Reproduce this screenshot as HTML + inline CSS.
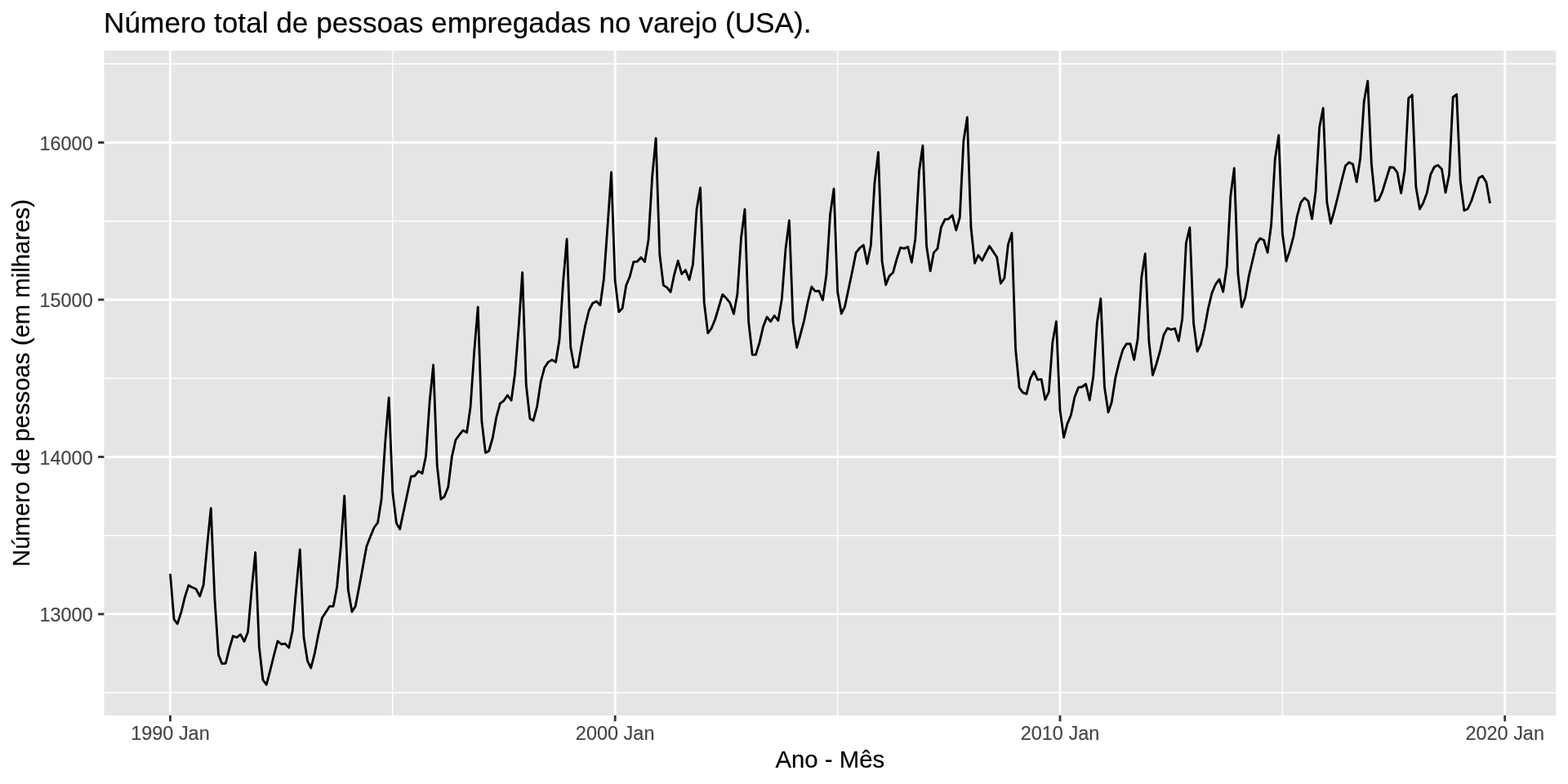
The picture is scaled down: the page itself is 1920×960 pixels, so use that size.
<!DOCTYPE html>
<html lang="pt">
<head>
<meta charset="utf-8">
<title>Número total de pessoas empregadas no varejo (USA).</title>
<style>
html,body{margin:0;padding:0;background:#fff;}
body{width:1920px;height:960px;overflow:hidden;}
svg{display:block;}
text{font-family:"Liberation Sans",Arial,Helvetica,sans-serif;}
.at{font-size:23.47px;fill:#444444;stroke:#444444;stroke-width:0.15px;}
.ti{font-size:35.2px;fill:#000;stroke:#000;stroke-width:0.2px;}
.ax{font-size:29.33px;fill:#000;stroke:#000;stroke-width:0.2px;}
</style>
</head>
<body>
<svg width="1920" height="960" viewBox="0 0 1920 960">
<rect x="0" y="0" width="1920" height="960" fill="#ffffff"/>
<rect x="127.45" y="62.00" width="1777.75" height="814.00" fill="#e5e5e5"/>
<g stroke="#ffffff" fill="none" stroke-linecap="butt">
<line x1="127.45" x2="1905.20" y1="848.19" y2="848.19" stroke-width="1.42"/>
<line x1="127.45" x2="1905.20" y1="655.71" y2="655.71" stroke-width="1.42"/>
<line x1="127.45" x2="1905.20" y1="463.23" y2="463.23" stroke-width="1.42"/>
<line x1="127.45" x2="1905.20" y1="270.74" y2="270.74" stroke-width="1.42"/>
<line x1="127.45" x2="1905.20" y1="78.26" y2="78.26" stroke-width="1.42"/>
<line x1="480.80" x2="480.80" y1="62.00" y2="876.00" stroke-width="1.42"/>
<line x1="1025.65" x2="1025.65" y1="62.00" y2="876.00" stroke-width="1.42"/>
<line x1="1570.35" x2="1570.35" y1="62.00" y2="876.00" stroke-width="1.42"/>
<line x1="127.45" x2="1905.20" y1="751.95" y2="751.95" stroke-width="2.84"/>
<line x1="127.45" x2="1905.20" y1="559.47" y2="559.47" stroke-width="2.84"/>
<line x1="127.45" x2="1905.20" y1="366.98" y2="366.98" stroke-width="2.84"/>
<line x1="127.45" x2="1905.20" y1="174.50" y2="174.50" stroke-width="2.84"/>
<line x1="208.45" x2="208.45" y1="62.00" y2="876.00" stroke-width="2.84"/>
<line x1="753.15" x2="753.15" y1="62.00" y2="876.00" stroke-width="2.84"/>
<line x1="1298.00" x2="1298.00" y1="62.00" y2="876.00" stroke-width="2.84"/>
<line x1="1842.70" x2="1842.70" y1="62.00" y2="876.00" stroke-width="2.84"/>
</g>
<polyline points="208.45,702.71 213.07,758.44 217.25,763.85 221.87,749.58 226.35,731.10 230.97,716.76 235.45,719.21 240.07,721.25 244.69,730.12 249.17,716.30 253.79,667.00 258.27,622.30 262.89,733.00 267.51,801.50 271.69,812.50 276.31,812.25 280.79,794.40 285.41,778.75 289.89,780.60 294.51,776.90 299.13,785.60 303.61,773.75 308.23,721.00 312.71,676.50 317.33,791.90 321.95,832.50 326.28,838.50 330.90,820.60 335.38,802.50 340.00,785.00 344.48,788.75 349.10,788.10 353.72,793.10 358.20,772.50 362.82,720.00 367.30,673.00 371.92,780.00 376.54,809.40 380.72,817.90 385.34,800.00 389.82,777.00 394.44,756.50 398.92,749.70 403.54,742.40 408.16,742.40 412.64,718.75 417.26,670.00 421.74,607.10 426.36,722.50 430.98,749.10 435.16,742.50 439.78,718.75 444.26,694.40 448.88,669.00 453.36,657.50 457.98,646.25 462.60,639.90 467.08,611.25 471.70,541.60 476.18,486.80 480.80,603.10 485.42,640.60 489.60,647.90 494.22,626.25 498.70,605.00 503.32,583.50 507.80,582.75 512.42,576.90 517.04,579.75 521.52,558.50 526.14,491.25 530.62,446.80 535.24,570.00 539.86,611.25 544.19,608.10 548.81,596.25 553.29,559.50 557.91,538.75 562.39,532.50 567.01,526.90 571.63,529.75 576.11,498.10 580.73,430.00 585.21,375.80 589.83,515.00 594.45,554.40 598.63,552.25 603.25,536.25 607.73,511.25 612.35,494.00 616.83,490.80 621.45,484.00 626.07,490.25 630.55,458.00 635.17,400.00 639.65,333.70 644.27,471.25 648.89,512.50 653.07,515.00 657.69,497.50 662.17,467.50 666.79,450.00 671.27,443.40 675.89,440.60 680.51,443.40 684.99,416.25 689.61,345.00 694.09,292.70 698.71,425.00 703.33,450.00 707.51,449.00 712.13,422.50 716.61,398.75 721.23,380.00 725.71,371.25 730.33,369.00 734.95,373.75 739.43,341.25 744.05,276.00 748.53,211.00 753.15,343.75 757.77,381.90 762.10,377.50 766.72,349.40 771.20,338.75 775.82,320.60 780.30,320.25 784.92,315.25 789.54,320.60 794.02,293.75 798.64,216.25 803.12,169.30 807.74,311.25 812.36,349.30 816.54,351.90 821.16,357.50 825.64,336.25 830.26,319.40 834.74,335.60 839.36,330.60 843.98,342.60 848.46,323.75 853.08,256.25 857.56,230.00 862.18,370.00 866.80,407.90 870.98,402.50 875.60,391.25 880.08,376.25 884.70,360.60 889.18,365.00 893.80,370.60 898.42,384.40 902.90,360.00 907.52,291.25 912.00,256.30 916.62,393.75 921.24,434.35 925.42,434.35 930.04,419.40 934.52,400.00 939.14,388.10 943.62,393.75 948.24,386.50 952.86,392.50 957.34,366.25 961.96,305.00 966.44,270.00 971.06,393.75 975.68,425.60 980.01,410.00 984.63,392.50 989.11,370.00 993.73,351.25 998.21,356.60 1002.83,356.25 1007.45,367.50 1011.93,336.50 1016.55,262.50 1021.03,231.20 1025.65,357.50 1030.27,384.00 1034.45,375.65 1039.07,353.75 1043.55,332.50 1048.17,309.40 1052.65,303.75 1057.27,300.00 1061.89,323.10 1066.37,300.30 1070.99,223.75 1075.47,186.50 1080.09,320.00 1084.71,348.75 1088.89,338.10 1093.51,333.75 1097.99,317.50 1102.61,303.10 1107.09,304.40 1111.71,302.25 1116.33,321.25 1120.81,292.50 1125.43,210.00 1129.91,178.30 1134.53,301.25 1139.15,331.90 1143.33,309.40 1147.95,304.40 1152.43,278.10 1157.05,268.75 1161.53,268.10 1166.15,263.50 1170.77,281.90 1175.25,266.25 1179.87,172.50 1184.35,143.70 1188.97,278.75 1193.59,322.25 1197.92,312.50 1202.54,319.00 1207.02,310.00 1211.64,301.25 1216.12,308.10 1220.74,315.00 1225.36,347.00 1229.84,340.60 1234.46,299.40 1238.94,285.30 1243.56,427.50 1248.18,474.75 1252.36,480.60 1256.98,482.50 1261.46,463.75 1266.08,454.75 1270.56,465.00 1275.18,464.40 1279.80,489.30 1284.28,480.00 1288.90,418.75 1293.38,393.70 1298.00,502.50 1302.62,535.60 1306.80,519.40 1311.42,508.10 1315.90,486.25 1320.52,474.40 1325.00,473.75 1329.62,470.25 1334.24,490.00 1338.72,461.25 1343.34,395.00 1347.82,365.60 1352.44,473.75 1357.06,504.85 1361.24,492.50 1365.86,462.50 1370.34,443.75 1374.96,428.10 1379.44,421.00 1384.06,421.00 1388.68,440.50 1393.16,415.00 1397.78,339.40 1402.26,310.60 1406.88,417.80 1411.50,459.30 1415.83,446.25 1420.45,430.00 1424.93,410.30 1429.55,401.90 1434.03,403.60 1438.65,402.25 1443.27,417.50 1447.75,390.00 1452.37,297.50 1456.85,278.70 1461.47,395.00 1466.09,430.40 1470.27,421.90 1474.89,402.50 1479.37,378.10 1483.99,358.75 1488.47,348.10 1493.09,341.90 1497.71,357.30 1502.19,326.25 1506.81,240.00 1511.29,206.00 1515.91,335.00 1520.53,376.00 1524.71,364.40 1529.33,337.50 1533.81,318.75 1538.43,298.75 1542.91,291.90 1547.53,294.00 1552.15,309.40 1556.63,275.00 1561.25,195.00 1565.73,165.60 1570.35,286.25 1574.97,319.75 1579.15,307.50 1583.77,290.00 1588.25,265.00 1592.87,247.80 1597.35,242.40 1601.97,246.25 1606.59,268.10 1611.07,233.75 1615.69,155.60 1620.17,132.50 1624.79,247.50 1629.41,273.60 1633.74,258.50 1638.36,240.00 1642.84,221.25 1647.46,203.10 1651.94,198.70 1656.56,201.00 1661.18,222.80 1665.66,193.75 1670.28,123.75 1674.76,99.10 1679.38,201.25 1684.00,246.25 1688.18,244.75 1692.80,234.40 1697.28,219.70 1701.90,204.75 1706.38,205.10 1711.00,211.25 1715.62,236.40 1720.10,208.75 1724.72,120.25 1729.20,116.20 1733.82,228.75 1738.44,256.00 1742.62,248.75 1747.24,236.25 1751.72,213.75 1756.34,204.40 1760.82,202.25 1765.44,206.90 1770.06,235.80 1774.54,213.75 1779.16,119.00 1783.64,115.60 1788.26,222.50 1792.88,257.75 1797.06,256.00 1801.68,246.25 1806.16,232.50 1810.78,218.10 1815.26,215.60 1819.88,223.10 1824.50,249.10" fill="none" stroke="#000000" stroke-width="2.84" stroke-linejoin="round" stroke-linecap="butt"/>
<g stroke="#333333" stroke-width="2.84" fill="none">
<line x1="120.12" x2="127.45" y1="751.95" y2="751.95"/>
<line x1="120.12" x2="127.45" y1="559.47" y2="559.47"/>
<line x1="120.12" x2="127.45" y1="366.98" y2="366.98"/>
<line x1="120.12" x2="127.45" y1="174.50" y2="174.50"/>
<line x1="208.45" x2="208.45" y1="876.00" y2="883.33"/>
<line x1="753.15" x2="753.15" y1="876.00" y2="883.33"/>
<line x1="1298.00" x2="1298.00" y1="876.00" y2="883.33"/>
<line x1="1842.70" x2="1842.70" y1="876.00" y2="883.33"/>
</g>
<text class="at" x="113.70" y="761.25" text-anchor="end">13000</text>
<text class="at" x="113.70" y="568.77" text-anchor="end">14000</text>
<text class="at" x="113.70" y="376.28" text-anchor="end">15000</text>
<text class="at" x="113.70" y="183.80" text-anchor="end">16000</text>
<text class="at" x="208.45" y="906.45" text-anchor="middle">1990 Jan</text>
<text class="at" x="753.15" y="906.45" text-anchor="middle">2000 Jan</text>
<text class="at" x="1298.00" y="906.45" text-anchor="middle">2010 Jan</text>
<text class="at" x="1842.70" y="906.45" text-anchor="middle">2020 Jan</text>
<text class="ax" x="1016.33" y="940.00" text-anchor="middle">Ano - Mês</text>
<text class="ax" transform="translate(35.90,469.00) rotate(-90)" text-anchor="middle">Número de pessoas (em milhares)</text>
<text class="ti" x="127.10" y="40.00">Número total de pessoas empregadas no varejo (USA).</text>
</svg>
</body>
</html>
